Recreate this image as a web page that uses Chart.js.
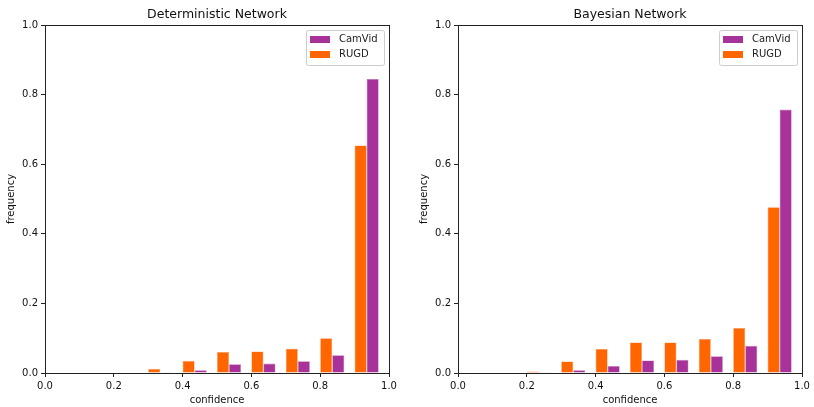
<!DOCTYPE html>
<html>
<head>
<meta charset="utf-8">
<script src="https://cdn.jsdelivr.net/npm/chart.js@4"></script>
<style>
  body { margin: 0; background: #fff; }
  .wrap { display: flex; width: 814px; height: 407px; }
  canvas { display: block; }
</style>
</head>
<body>
<div class="wrap">
  <canvas id="det" width="407" height="407"></canvas>
  <canvas id="bay" width="407" height="407"></canvas>
</div>
<script>
// histogram bins (left edges), width 0.1
const binEdges = [0.0, 0.1, 0.2, 0.3, 0.4, 0.5, 0.6, 0.7, 0.8, 0.9];
const binWidth = 0.1;
const axisTicks = [0.0, 0.2, 0.4, 0.6, 0.8, 1.0];

// Deterministic Network
const detRugd   = [0, 0, 0, 0.012, 0.035, 0.060, 0.062, 0.070, 0.100, 0.654];
const detCamvid = [0, 0, 0, 0.002, 0.008, 0.025, 0.027, 0.034, 0.051, 0.845];

// Bayesian Network
const bayRugd   = [0, 0, 0.004, 0.033, 0.069, 0.088, 0.088, 0.098, 0.129, 0.476];
const bayCamvid = [0, 0, 0.002, 0.008, 0.020, 0.036, 0.038, 0.048, 0.078, 0.757];

const ORANGE = '#ff6600';
const PURPLE = '#a7339a';
const FONT = 'DejaVu Sans';

// matplotlib style box around the axes + legend in the upper right
const mplFrame = {
  id: 'mplFrame',
  afterDatasetsDraw(chart) {
    const { ctx, chartArea: a } = chart;
    ctx.save();
    ctx.strokeStyle = '#222';
    ctx.lineWidth = 1;
    ctx.strokeRect(Math.round(a.left) + 0.5, Math.round(a.top) + 0.5,
                   Math.round(a.right - a.left), Math.round(a.bottom - a.top));

    // legend: CamVid first, then RUGD
    const items = chart.data.datasets.slice().reverse();
    const w = 78, h = 35;
    const x = a.right - 5 - w, y = a.top + 5;
    ctx.beginPath();
    ctx.roundRect(x + 0.5, y + 0.5, w, h, 2);
    ctx.fillStyle = 'rgba(255,255,255,0.8)';
    ctx.fill();
    ctx.strokeStyle = '#cccccc';
    ctx.stroke();
    ctx.font = '10px "' + FONT + '"';
    ctx.textBaseline = 'middle';
    items.forEach((ds, i) => {
      const cy = y + 9.5 + i * 15;
      ctx.fillStyle = ds.backgroundColor;
      ctx.fillRect(x + 4, cy - 3.5, 20, 7);
      ctx.fillStyle = '#222';
      ctx.fillText(ds.label, x + 33, cy);
    });
    ctx.restore();
  }
};

function toPoints(values) {
  // group of two bars starts at the left bin edge
  return values.map((v, i) => ({ x: binEdges[i] + binWidth * 0.35, y: v }));
}

function barSet(label, values, color, edge) {
  return {
    label: label,
    data: toPoints(values),
    backgroundColor: color,
    borderColor: edge,
    borderWidth: c => (c.raw && c.raw.y > 0 ? 0.6 : 0),
    borderSkipped: 'start',
    categoryPercentage: 0.7,
    barPercentage: 1.0
  };
}

function axisOpts(title, titlePad, fit) {
  return {
    type: 'linear',
    min: 0,
    max: 1,
    offset: false,
    afterFit: fit,
    afterBuildTicks: s => { s.ticks = axisTicks.map(v => ({ value: v })); },
    grid: { drawOnChartArea: false, offset: false, tickLength: 4, color: '#222', lineWidth: 1 },
    border: { display: false },
    ticks: {
      callback: v => Number(v).toFixed(1),
      color: '#111',
      font: { family: FONT, size: 10 },
      padding: 3,
      maxRotation: 0
    },
    title: {
      display: true,
      text: title,
      color: '#111',
      font: { family: FONT, size: 10 },
      padding: { top: titlePad, bottom: 1 }
    }
  };
}

function makeChart(id, title, rugd, camvid, pad) {
  return new Chart(document.getElementById(id), {
    type: 'bar',
    data: {
      datasets: [
        barSet('RUGD', rugd, ORANGE, 'rgba(255,150,90,1)'),
        barSet('CamVid', camvid, PURPLE, 'rgba(200,120,190,1)')
      ]
    },
    options: {
      responsive: false,
      animation: false,
      devicePixelRatio: 1,
      layout: { padding: pad },
      scales: {
        x: axisOpts('confidence', 1, s => { s.height = 34; }),
        y: axisOpts('frequency', 5, s => { s.width = 45; })
      },
      plugins: {
        legend: { display: false },
        tooltip: { enabled: false },
        title: {
          display: true,
          text: title,
          fullSize: false,
          color: '#111',
          font: { family: FONT, size: 12.5, weight: 'normal' },
          padding: { top: 7, bottom: 3 }
        }
      }
    },
    plugins: [mplFrame]
  });
}

makeChart('det', 'Deterministic Network', detRugd, detCamvid, { left: 0, right: 18, top: 0, bottom: 0 });
makeChart('bay', 'Bayesian Network', bayRugd, bayCamvid, { left: 6, right: 12, top: 0, bottom: 0 });
</script>
</body>
</html>
